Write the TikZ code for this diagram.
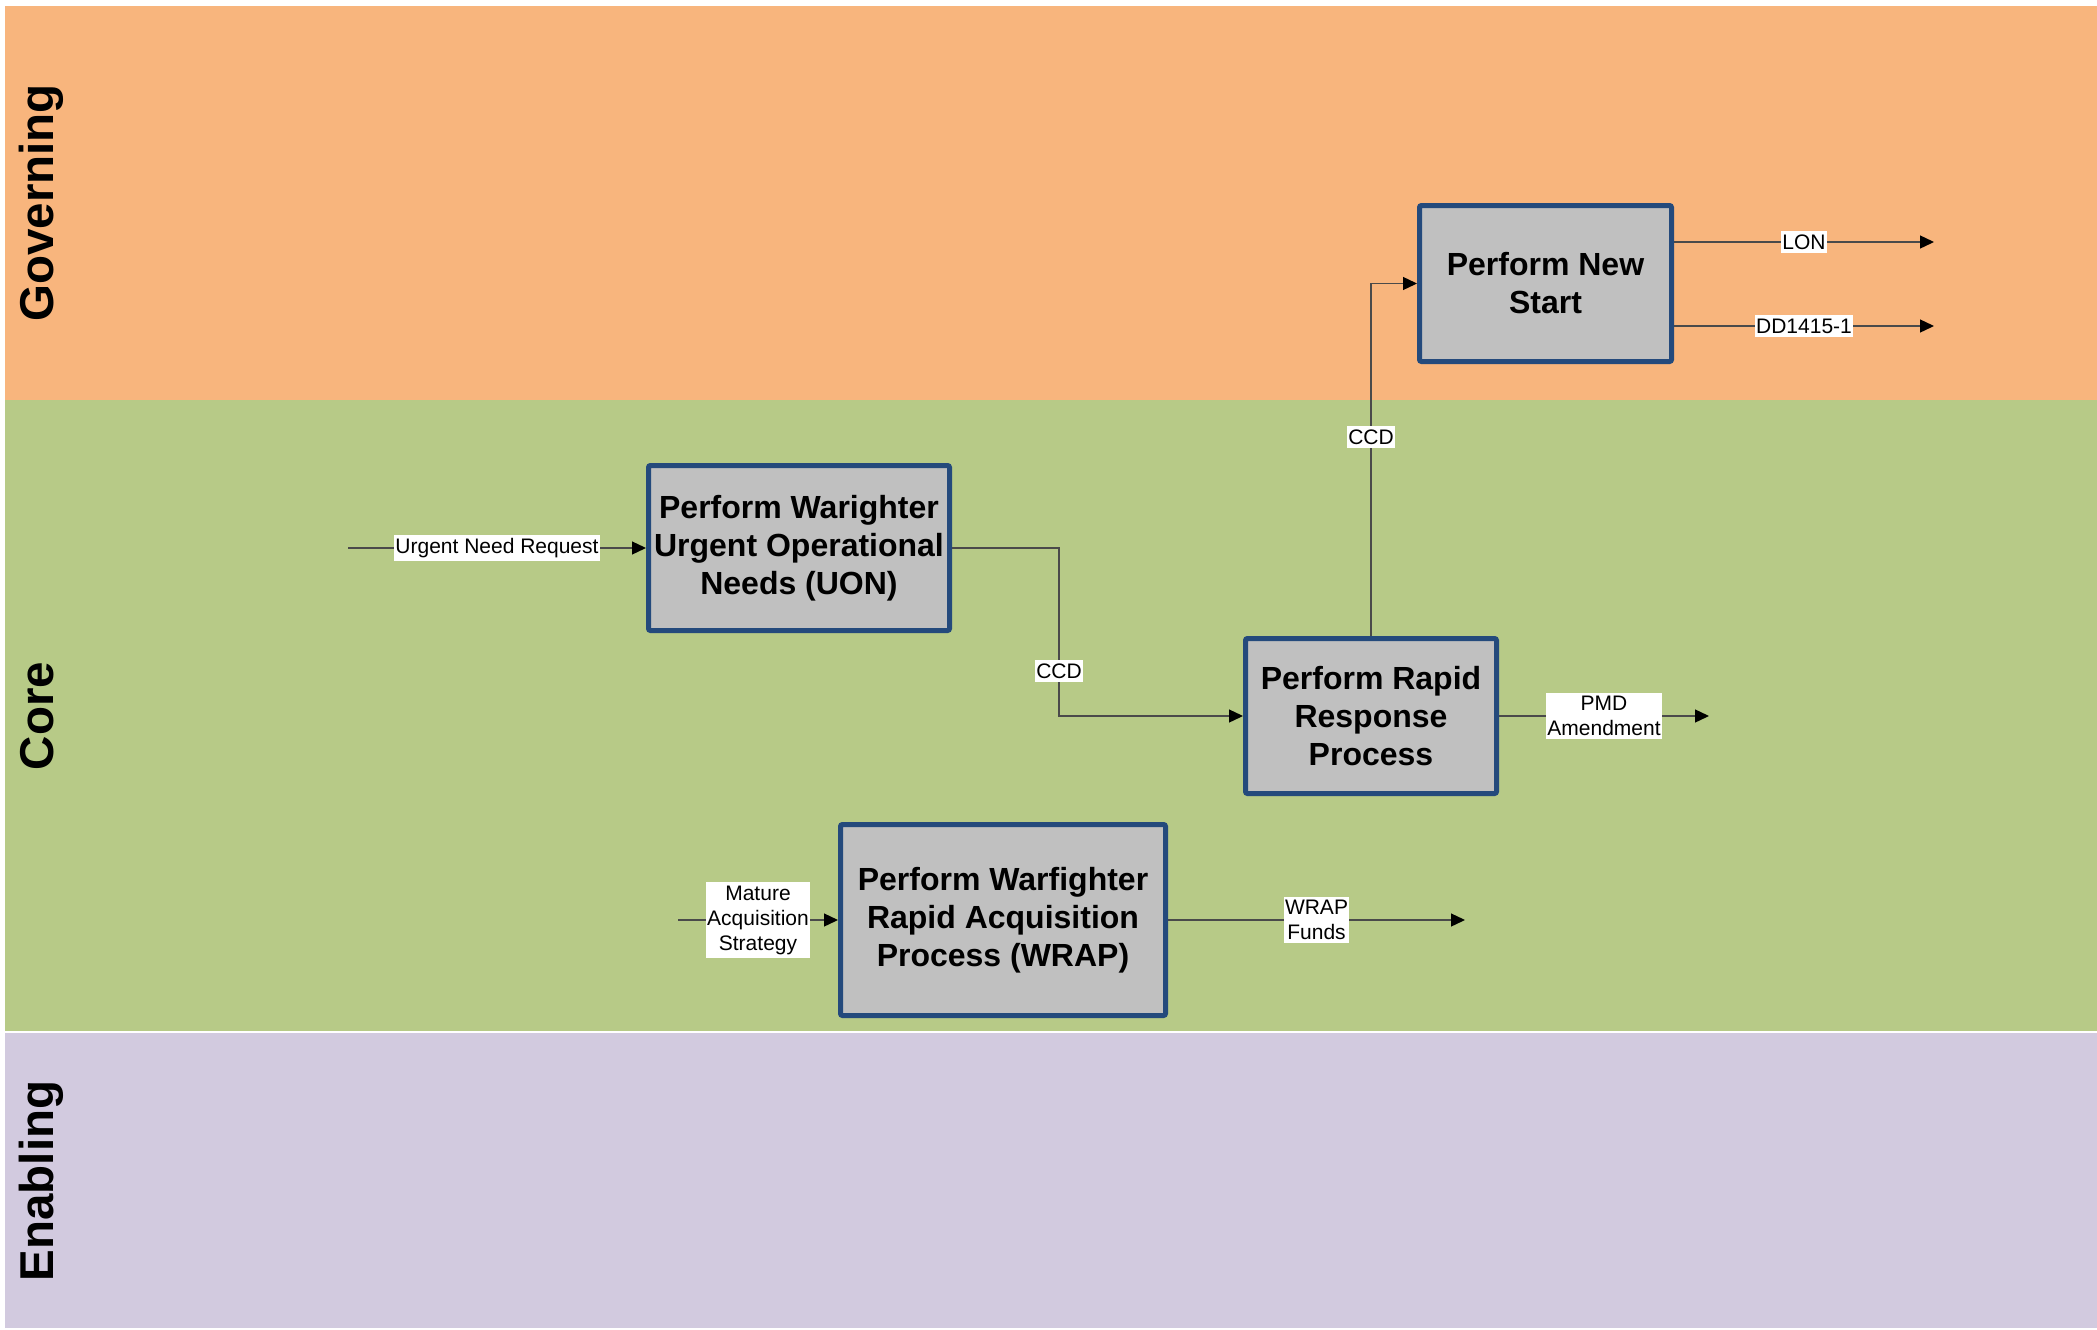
\documentclass[tikz,border=0pt]{standalone}
\usepackage{fontspec}
\setmainfont{Liberation Sans}
\usetikzlibrary{arrows.meta}
\definecolor{govc}{HTML}{F8B57D}
\definecolor{corec}{HTML}{B7CA87}
\definecolor{enac}{HTML}{D2CADF}
\definecolor{boxfill}{HTML}{C0C0C0}
\definecolor{boxline}{HTML}{244A7C}
\definecolor{linec}{HTML}{4A4A4A}
\begin{document}
\begin{tikzpicture}[x=1pt,y=-1pt,
  lanelabel/.style={rotate=90, anchor=base, inner sep=0pt, font=\fontsize{47.5}{50}\selectfont\bfseries},
  proc/.style={draw=boxline, line width=5pt, fill=boxfill, rounded corners=2pt, align=center, inner sep=0pt, font=\fontsize{32}{38}\selectfont\bfseries},
  flow/.style={draw=linec, line width=1.3pt, -{Triangle[length=14pt,width=13pt,color=black]}},
  lbl/.style={fill=white, inner xsep=1pt, inner ysep=3.5pt, align=center, font=\fontsize{21}{25}\selectfont}
]
\useasboundingbox (0,0) rectangle (2097,1330);
\fill[white] (0,0) rectangle (2097,1330);
% lanes
\fill[govc] (5,6) rectangle (2097,400);
\fill[corec] (5,400) rectangle (2097,1031);
\fill[enac] (5,1033) rectangle (2097,1328);
\node[lanelabel] (lgov) at (53,203) {Governing};
\node[lanelabel] (lcore) at (53,716) {Core};
\node[lanelabel] (lena) at (53,1181) {Enabling};
% process boxes
\node[proc, minimum width=252pt, minimum height=156pt] (ns) at (1545.5,283.5) {Perform New\\Start};
\node[proc, minimum width=301pt, minimum height=165pt] (uon) at (799,548) {Perform Warighter\\Urgent Operational\\Needs (UON)};
\node[proc, minimum width=251pt, minimum height=155pt] (rapid) at (1371,716) {Perform Rapid\\Response\\Process};
\node[proc, minimum width=325pt, minimum height=191pt] (wrap) at (1003,920) {Perform Warfighter\\Rapid Acquisition\\Process (WRAP)};
% free ends
\coordinate (unrin) at (348,548);
\coordinate (masin) at (678,920);
\coordinate (lonend) at (1934,242);
\coordinate (ddend) at (1934,326);
\coordinate (pmdend) at (1709,716);
\coordinate (wfend) at (1465,920);
\coordinate (bend1) at (1059,548);
% connectors
\draw[flow] (unrin) -- (uon.west) node[lbl, midway] (lunr) {Urgent Need Request};
\draw[flow] (masin) -- (wrap.west) node[lbl, midway] (lmas) {Mature\\Acquisition\\Strategy};
\draw[flow] (uon.east) -- (bend1) |- (rapid.west);
\node[lbl] (lccd1) at (1059,671) {CCD};
\draw[flow] (rapid.north) |- (ns.west);
\node[lbl] (lccd2) at (1371,437) {CCD};
\draw[flow] (lonend -| ns.east) -- (lonend) node[lbl, midway] (llon) {LON};
\draw[flow] (ddend -| ns.east) -- (ddend) node[lbl, midway] (ldd) {DD1415-1};
\draw[flow] (rapid.east) -- (pmdend) node[lbl, midway] (lpmd) {PMD\\Amendment};
\draw[flow] (wrap.east) -- (wfend) node[lbl, midway] (lwf) {WRAP\\Funds};
\end{tikzpicture}
\end{document}
